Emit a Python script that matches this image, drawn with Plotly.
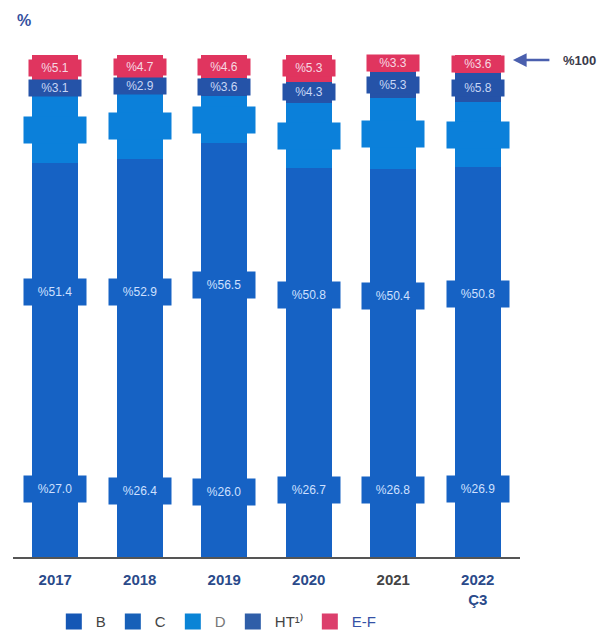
import plotly.graph_objects as go

years = ["2017", "2018", "2019", "2020", "2021", "2022<br>Ç3"]
B = [27.0, 26.4, 26.0, 26.7, 26.8, 26.9]
C = [51.4, 52.9, 56.5, 50.8, 50.4, 50.8]
HT = [3.1, 2.9, 3.6, 4.3, 5.3, 5.8]
EF = [5.1, 4.7, 4.6, 5.3, 3.3, 3.6]
D = [round(100 - b - c - h - e, 1) for b, c, h, e in zip(B, C, HT, EF)]
legend_names = ["B", "C", "D", "HT¹⁾", "E-F"]

col_B = "#1662c4"
col_C = "#1662c4"
col_D = "#0b80da"
col_HT = "#2553a8"
col_EF = "#e0355f"
leg_cols = ["#1557b5", "#1760b8", "#0a84d6", "#2f5ea8", "#dc3f6c"]
leg_text = ["#444", "#444", "#777", "#444", "#3552a6"]

fig = go.Figure()
series = [("B", B, col_B), ("C", C, col_C), ("D", D, col_D), ("HT", HT, col_HT), ("E-F", EF, col_EF)]
for name, vals, col in series:
    fig.add_trace(go.Bar(x=years, y=vals, name=name, marker=dict(color=col, line=dict(width=0)),
                         width=0.54, showlegend=False))
for nm, lc, tc in zip(legend_names, leg_cols, leg_text):
    fig.add_trace(go.Scatter(x=[None], y=[None], mode="markers", name=f"<span style='color:{tc}'>{nm}</span>",
                             marker=dict(symbol="square", size=20, color=lc), showlegend=True))

annotations = []
for i, yr in enumerate(years):
    base = 0
    for name, vals, col in series:
        v = vals[i]
        mid = base + v / 2
        base += v
        if name in ("B", "C", "D"):
            txt = "" if name == "D" else f"%{v:.1f}"
            annotations.append(dict(x=i, y=mid, xref="x", yref="y", text=txt, showarrow=False,
                                    bgcolor=col, width=60, height=24,
                                    font=dict(family="Liberation Sans, Arial", size=12, color="#cfe0ff")))
        else:
            annotations.append(dict(x=i, y=mid, xref="x", yref="y", text=f"%{v:.1f}", showarrow=False,
                                    bgcolor=col, width=50, height=14,
                                    font=dict(family="Liberation Sans, Arial", size=12,
                                              color="#f6d8e2" if name == "E-F" else "#c8d6f5")))

annotations.append(dict(xref="paper", yref="y", x=0.986, y=99, text="", showarrow=True,
                        ax=38, ay=0, arrowhead=2, arrowsize=1.1, arrowwidth=2.5, arrowcolor="#4a5fae"))
annotations.append(dict(xref="paper", yref="y", x=1.08, y=99, xanchor="left", text="<b>%100</b>",
                        showarrow=False, font=dict(family="Liberation Sans, Arial", size=13, color="#3a3a4a")))
annotations.append(dict(xref="paper", yref="paper", x=0.004, y=1.068, xanchor="left", yanchor="middle",
                        text="<b>%</b>",
                        showarrow=False, font=dict(family="Liberation Sans, Arial", size=16, color="#3551a0")))

tick_colors = ["#2a4a8a", "#2a4a8a", "#2a4a8a", "#2a4a8a", "#444444", "#2a4a8a"]
ticktext = [f"<span style='color:{c}'>{y}</span>" for y, c in zip(years, tick_colors)]

fig.update_layout(
    barmode="stack",
    width=597, height=631,
    margin=dict(l=5, r=85, t=47, b=82, autoexpand=False),
    paper_bgcolor="white", plot_bgcolor="white",
    annotations=annotations,
    showlegend=True,
    legend=dict(orientation="h", x=0.402, xanchor="center", y=-0.129, yanchor="middle",
                font=dict(family="Liberation Sans, Arial", size=15, color="#444"),
                traceorder="normal", itemwidth=34, tracegroupgap=0),
    xaxis=dict(type="category", showline=True, linecolor="#555", linewidth=2, ticks="",
               ticklabelstandoff=8, range=[-0.5, 5.5],
               tickvals=list(range(len(years))), ticktext=ticktext,
               tickfont=dict(family="Liberation Sans, Arial", size=15, color="#2a4a8a", weight="bold")),
    yaxis=dict(range=[0, 100], visible=False, showgrid=False),
)

fig.write_html("out.html")
